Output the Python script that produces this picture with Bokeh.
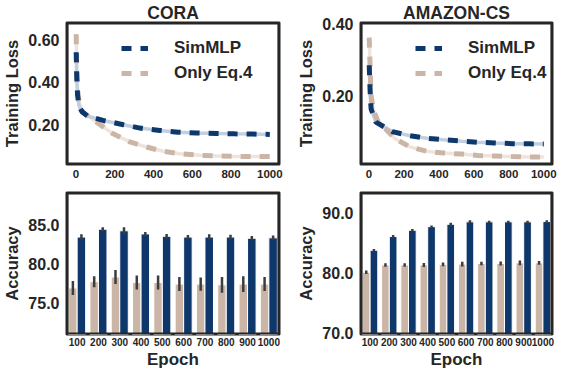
from bokeh.plotting import figure
from bokeh.models import (ColumnDataSource, FixedTicker, NumeralTickFormatter, Legend,
                          LegendItem, Range1d, FactorRange, AllLabels, Spacer)
from bokeh.transform import dodge
from bokeh.layouts import column, row
from bokeh.embed import file_html
from bokeh.resources import INLINE

NAVY = "#0e376b"
TAN = "#cbb5a6"
NAVY_BAND = "#c2cfdf"
TAN_BAND = "#efe3dd"
INK = "#262626"
ERR = "#3d3d3d"
FONT = "Liberation Sans"

# ---- training loss curves ----
cora_sim_epoch = [1, 2, 4, 8, 15, 30, 60, 140, 244, 330, 433, 527, 622, 725, 819, 914, 1000]
cora_sim_loss = [0.54, 0.50, 0.42, 0.34, 0.29, 0.262, 0.240, 0.220, 0.200, 0.184, 0.173,
                 0.165, 0.161, 0.159, 0.157, 0.156, 0.154]
cora_eq4_epoch = [1, 2, 4, 8, 15, 34, 106, 192, 278, 364, 450, 536, 639, 725, 828, 914, 1000]
cora_eq4_loss = [0.625, 0.56, 0.46, 0.37, 0.31, 0.259, 0.212, 0.157, 0.119, 0.095, 0.075,
                 0.064, 0.056, 0.053, 0.051, 0.050, 0.050]

amz_sim_epoch = [1, 4, 8, 12, 39, 133, 228, 331, 426, 529, 623, 718, 821, 916, 1000]
amz_sim_loss = [0.285, 0.24, 0.19, 0.163, 0.127, 0.1005, 0.0895, 0.082, 0.078, 0.074,
                0.071, 0.069, 0.067, 0.0665, 0.066]
amz_eq4_epoch = [1, 4, 8, 12, 25, 50, 100, 151, 236, 331, 426, 529, 623, 718, 821, 916, 1000]
amz_eq4_loss = [0.362, 0.31, 0.25, 0.20, 0.16, 0.13, 0.105, 0.080, 0.0575, 0.0455, 0.041,
                0.038, 0.034, 0.0326, 0.031, 0.030, 0.030]

loss_ticks = [0, 200, 400, 600, 800, 1000]

# ---- accuracy bars ----
epochs_cat = ["100", "200", "300", "400", "500", "600", "700", "800", "900", "1000"]
cora_sim_acc = [83.4, 84.4, 84.2, 83.8, 83.5, 83.4, 83.4, 83.4, 83.25, 83.3]
cora_sim_err = [0.35, 0.25, 0.45, 0.25, 0.3, 0.25, 0.35, 0.3, 0.3, 0.3]
cora_eq4_acc = [76.9, 77.7, 78.3, 77.6, 77.6, 77.4, 77.4, 77.3, 77.4, 77.4]
cora_eq4_err = [0.9, 0.7, 0.9, 0.9, 0.9, 0.9, 0.85, 1.0, 1.0, 0.9]

amz_sim_acc = [83.75, 86.05, 87.1, 87.7, 88.1, 88.5, 88.5, 88.5, 88.5, 88.55]
amz_sim_err = [0.2, 0.25, 0.2, 0.2, 0.25, 0.25, 0.2, 0.2, 0.2, 0.2]
amz_eq4_acc = [80.1, 81.3, 81.3, 81.3, 81.4, 81.45, 81.55, 81.55, 81.65, 81.65]
amz_eq4_err = [0.3, 0.3, 0.3, 0.35, 0.3, 0.4, 0.3, 0.35, 0.4, 0.3]

FH = 142


def style(p, xfs, yfs):
    for ax in (p.xaxis[0], p.yaxis[0]):
        ax.axis_line_color = None
        ax.major_tick_line_color = None
        ax.minor_tick_line_color = None
        ax.major_tick_out = 0
        ax.major_tick_in = 0
        ax.minor_tick_out = 0
        ax.minor_tick_in = 0
        ax.major_label_text_font = FONT
        ax.major_label_text_font_style = "bold"
        ax.major_label_text_color = INK
        ax.axis_label_text_font = FONT
        ax.axis_label_text_font_style = "bold"
        ax.axis_label_text_color = INK
    p.xaxis[0].major_label_text_font_size = xfs
    p.yaxis[0].major_label_text_font_size = yfs
    p.yaxis[0].major_label_standoff = 7
    p.yaxis[0].axis_label_standoff = 4
    p.yaxis[0].axis_label_text_font_size = "16.5px"
    p.xgrid.grid_line_color = None
    p.ygrid.grid_line_color = None
    p.outline_line_color = INK
    p.outline_line_width = 2
    p.background_fill_color = "white"
    p.border_fill_color = "white"


def frame_box(p, x0, x1, y0, y1, fw):
    # frame border, drawn 1px inside the range limits
    dx = (x1 - x0) / fw
    dy = (y1 - y0) / FH
    a0, a1, b0, b1 = x0 + dx, x1 - dx, y0 + dy, y1 - dy
    p.line([a0, a1, a1, a0, a0], [b0, b0, b1, b1, b0], line_color=INK, line_width=2.2)


def loss_fig(title, se, sl, ee, el, yr, yticks, left, right, fw):
    xr = (-49, 1050)
    p = figure(frame_width=fw, frame_height=FH, output_backend="svg", toolbar_location=None,
               x_range=Range1d(*xr), y_range=Range1d(*yr),
               min_border_left=left, min_border_right=right,
               min_border_top=0, min_border_bottom=20)
    style(p, "11.5px", "16px")
    p.title.text = title
    p.title.align = "center"
    p.title.text_font = FONT
    p.title.text_font_style = "bold"
    p.title.text_font_size = "17.5px"
    p.title.text_color = INK
    p.title.standoff = 0
    p.xaxis[0].ticker = FixedTicker(ticks=loss_ticks)
    p.xaxis[0].major_label_standoff = 5
    p.yaxis[0].ticker = FixedTicker(ticks=yticks)
    p.yaxis[0].formatter = NumeralTickFormatter(format="0.00")
    p.yaxis[0].axis_label = "Training Loss"
    p.line(ee, el, line_color=TAN_BAND, line_width=3.5)
    p.line(se, sl, line_color=NAVY_BAND, line_width=3.5)
    r_e = p.line(ee, el, line_color=TAN, line_width=5, line_dash="10 9")
    r_s = p.line(se, sl, line_color=NAVY, line_width=5, line_dash="10 9")
    legend = Legend(items=[LegendItem(label="SimMLP", renderers=[r_s]),
                           LegendItem(label="Only Eq.4", renderers=[r_e])],
                    location=(55, 81), padding=0, margin=0, spacing=5,
                    glyph_width=27, glyph_height=20, label_height=20, label_standoff=26,
                    label_text_font=FONT, label_text_font_style="bold",
                    label_text_font_size="17px", label_text_color=INK,
                    border_line_color=None, background_fill_alpha=0)
    p.add_layout(legend)
    frame_box(p, xr[0], xr[1], yr[0], yr[1], fw)
    return p


def acc_fig(sim, sim_err, eq4, eq4_err, yr, yticks, left, right, fw):
    src = ColumnDataSource(dict(
        epoch=epochs_cat,
        sim=sim, sim_lo=[v - e for v, e in zip(sim, sim_err)],
        sim_hi=[v + e for v, e in zip(sim, sim_err)],
        eq4=eq4, eq4_lo=[v - e for v, e in zip(eq4, eq4_err)],
        eq4_hi=[v + e for v, e in zip(eq4, eq4_err)],
    ))
    p = figure(frame_width=fw, frame_height=FH, output_backend="svg", toolbar_location=None,
               x_range=FactorRange(factors=epochs_cat, range_padding=0),
               y_range=Range1d(*yr),
               min_border_left=left, min_border_right=right,
               min_border_top=8, min_border_bottom=36)
    style(p, "10px", "16px")
    p.xaxis[0].major_label_policy = AllLabels()
    p.xaxis[0].major_label_standoff = 3
    p.xaxis[0].axis_label = "Epoch"
    p.xaxis[0].axis_label_text_font_size = "17px"
    p.xaxis[0].axis_label_standoff = 1
    p.yaxis[0].ticker = FixedTicker(ticks=yticks)
    p.yaxis[0].formatter = NumeralTickFormatter(format="0.0")
    p.yaxis[0].axis_label = "Accuracy"
    xl = dodge("epoch", -0.2, range=p.x_range)
    xr = dodge("epoch", 0.2, range=p.x_range)
    p.vbar(x=xl, top="eq4", bottom=0, width=0.4, source=src,
           fill_color=TAN, line_color="white", line_width=1)
    p.vbar(x=xr, top="sim", bottom=0, width=0.4, source=src,
           fill_color=NAVY, line_color="white", line_width=1)
    p.segment(x0=xl, y0="eq4_lo", x1=xl, y1="eq4_hi", source=src,
              line_color=ERR, line_width=2.5)
    p.segment(x0=xr, y0="sim_lo", x1=xr, y1="sim_hi", source=src,
              line_color=ERR, line_width=2.5)
    frame_box(p, 0, len(epochs_cat), yr[0], yr[1], fw)
    return p


p1 = loss_fig("CORA", cora_sim_epoch, cora_sim_loss, cora_eq4_epoch, cora_eq4_loss,
              (0.013, 0.68), [0.2, 0.4, 0.6], 62, 7, 213)
p2 = loss_fig("AMAZON-CS", amz_sim_epoch, amz_sim_loss, amz_eq4_epoch, amz_eq4_loss,
              (0.009, 0.404), [0.2, 0.4], 68, 5, 192)
p3 = acc_fig(cora_sim_acc, cora_sim_err, cora_eq4_acc, cora_eq4_err,
             (70.96, 89.09), [75, 80, 85], 62, 7, 213)
p4 = acc_fig(amz_sim_acc, amz_sim_err, amz_eq4_acc, amz_eq4_err,
             (69.7, 93.4), [70, 80, 90], 68, 5, 192)

layout = column(row(p1, Spacer(width=6), p2, spacing=0),
                row(p3, Spacer(width=6), p4, spacing=0), spacing=0)

open("out.html", "w").write(file_html(layout, INLINE))
